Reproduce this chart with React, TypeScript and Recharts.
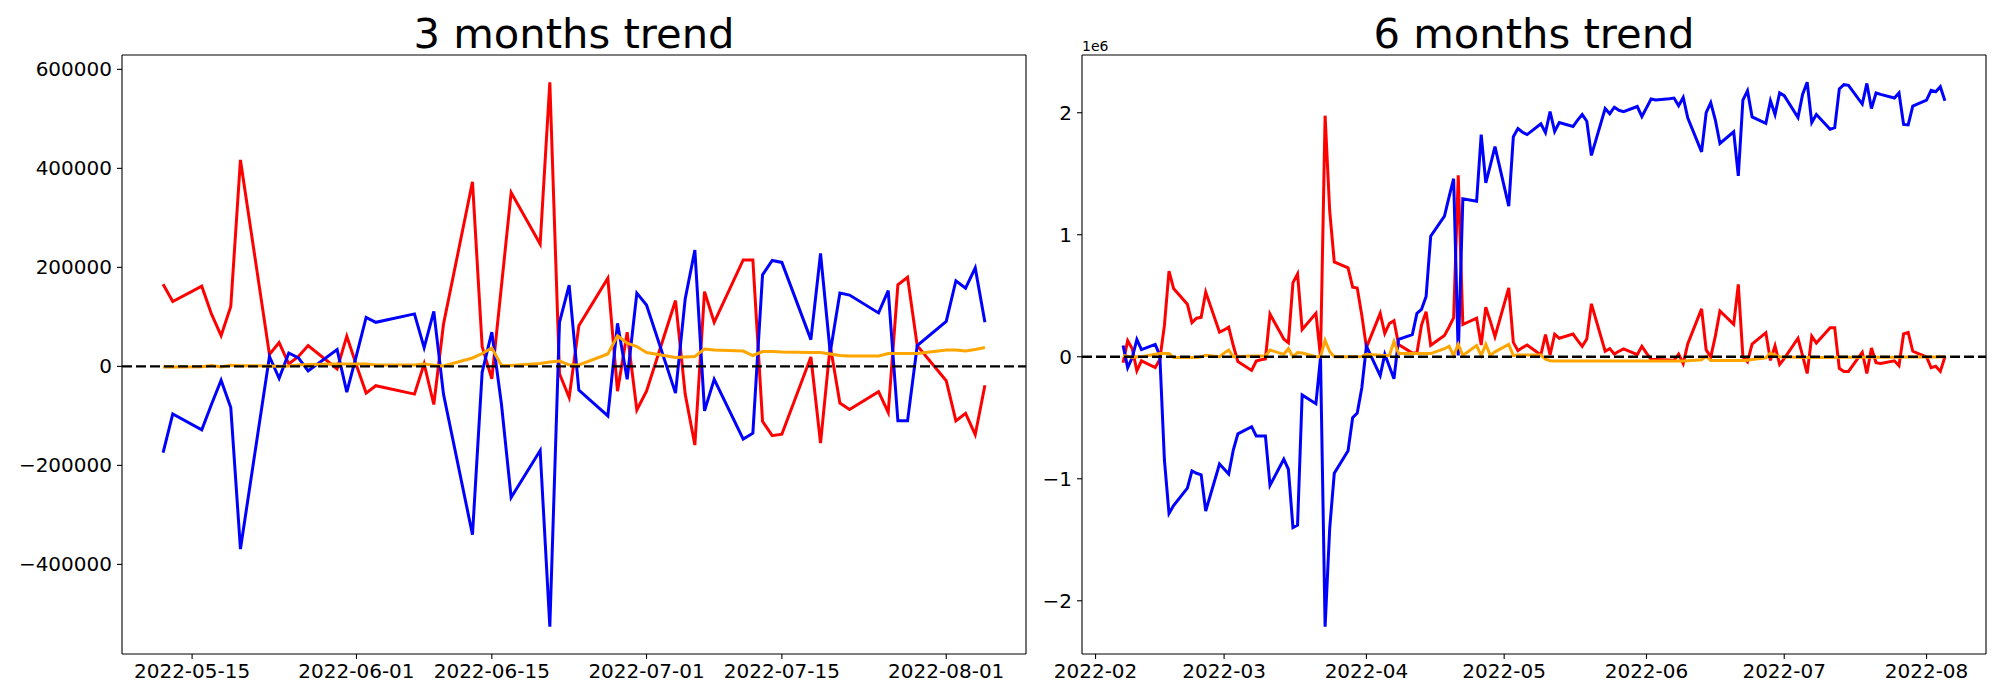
import * as React from "react"
import { LineChart, Line, XAxis, YAxis, ReferenceLine } from "recharts"

// ---- 3 months trend ----
const leftDates = [
  "2022-05-12", "2022-05-13", "2022-05-16", "2022-05-17", "2022-05-18", "2022-05-19", "2022-05-20",
  "2022-05-23", "2022-05-24", "2022-05-25", "2022-05-26", "2022-05-27", "2022-05-30", "2022-05-31",
  "2022-06-01", "2022-06-02", "2022-06-03", "2022-06-07", "2022-06-08", "2022-06-09", "2022-06-10",
  "2022-06-13", "2022-06-14", "2022-06-15", "2022-06-16", "2022-06-17", "2022-06-20", "2022-06-21",
  "2022-06-22", "2022-06-23", "2022-06-24", "2022-06-27", "2022-06-28", "2022-06-29", "2022-06-30",
  "2022-07-01", "2022-07-04", "2022-07-05", "2022-07-06", "2022-07-07", "2022-07-08", "2022-07-11",
  "2022-07-12", "2022-07-13", "2022-07-14", "2022-07-15", "2022-07-18", "2022-07-19", "2022-07-20",
  "2022-07-21", "2022-07-22", "2022-07-25", "2022-07-26", "2022-07-27", "2022-07-28", "2022-07-29",
  "2022-08-01", "2022-08-02", "2022-08-03", "2022-08-04", "2022-08-05",
]
const leftRed = [
  166000, 131000, 162000, 106000, 62000, 121000, 417000, 24000, 48000, 5000, 20000, 42000, -5000, 61000,
  2000, -54000, -39000, -56000, 5000, -77000, 85000, 373000, 40000, -25000, 163000, 351000, 247000, 574000,
  -15000, -63000, 82000, 178000, -50000, 69000, -88000,
  -50000, 133000, -56000, -159000, 151000, 89000, 215000, 215000, -111000, -140000, -137000, 19000, -155000,
  42000, -74000, -87000, -51000, -93000, 165000, 180000, 42000,
  -29000, -110000, -95000, -138000, -38000,
]
const leftBlue = [
  -174000, -96000, -128000, -77000, -28000, -83000, -369000, 20000, -24000, 27000, 17000, -9000, 34000, -52000,
  22000, 99000, 89000, 106000, 38000, 111000, -56000, -340000, -12000, 69000, -77000, -265000, -170000, -526000,
  89000, 164000, -48000, -100000, 87000, -26000, 148000,
  124000, -54000, 136000, 235000, -90000, -26000, -147000, -135000, 185000, 214000, 210000, 54000, 228000,
  28000, 148000, 144000, 108000, 153000, -110000, -110000, 42000,
  91000, 173000, 158000, 199000, 89000,
]
const leftOrange = [
  -1000, -1000, -500, 2000, -1000, 2500, 1500, 1000, 500, 1000, 3000, 4000, 5000, 5000,
  5000, 5000, 3000, 3000, 5000, 2500, 1000, 17000, 26000, 37000, 2000, 2000, 6000, 9000,
  11000, 3000, 3000, 25000, 62000, 47000, 40000,
  28000, 18000, 19000, 20000, 35000, 33000, 31000, 22000, 30000, 30000, 29000, 28000, 28000,
  25000, 22000, 21000, 21000, 26000, 26000, 26000, 26000,
  33000, 33000, 31000, 34000, 38000,
]
const leftXTicks = ["2022-05-15", "2022-06-01", "2022-06-15", "2022-07-01", "2022-07-15", "2022-08-01"]
const leftYTicks = [-400000, -200000, 0, 200000, 400000, 600000]

// ---- 6 months trend (values in 1e6) ----
const rightDates = [
  "2022-02-07", "2022-02-08", "2022-02-09", "2022-02-10", "2022-02-11", "2022-02-14", "2022-02-15", "2022-02-16",
  "2022-02-17", "2022-02-18", "2022-02-21", "2022-02-22", "2022-02-23", "2022-02-24", "2022-02-25", "2022-02-28",
  "2022-03-01", "2022-03-02", "2022-03-03", "2022-03-04", "2022-03-07", "2022-03-08", "2022-03-09", "2022-03-10",
  "2022-03-11", "2022-03-14", "2022-03-15", "2022-03-16", "2022-03-17", "2022-03-18", "2022-03-21", "2022-03-22",
  "2022-03-23", "2022-03-24", "2022-03-25", "2022-03-28", "2022-03-29", "2022-03-30", "2022-03-31",
  "2022-04-01", "2022-04-04", "2022-04-05", "2022-04-06", "2022-04-07", "2022-04-08", "2022-04-11", "2022-04-12",
  "2022-04-13", "2022-04-14", "2022-04-15", "2022-04-18", "2022-04-19", "2022-04-20", "2022-04-21", "2022-04-22",
  "2022-04-25", "2022-04-26", "2022-04-27", "2022-04-28", "2022-04-29",
  "2022-05-02", "2022-05-03", "2022-05-04", "2022-05-05", "2022-05-06", "2022-05-09", "2022-05-10", "2022-05-11",
  "2022-05-12", "2022-05-13", "2022-05-16", "2022-05-17", "2022-05-18", "2022-05-19", "2022-05-20", "2022-05-23",
  "2022-05-24", "2022-05-25", "2022-05-26", "2022-05-27", "2022-05-30", "2022-05-31",
  "2022-06-01", "2022-06-02", "2022-06-03", "2022-06-06", "2022-06-07", "2022-06-08", "2022-06-09", "2022-06-10",
  "2022-06-13", "2022-06-14", "2022-06-15", "2022-06-16", "2022-06-17", "2022-06-20", "2022-06-21", "2022-06-22",
  "2022-06-23", "2022-06-24", "2022-06-27", "2022-06-28", "2022-06-29", "2022-06-30",
  "2022-07-01", "2022-07-04", "2022-07-05", "2022-07-06", "2022-07-07", "2022-07-08", "2022-07-11", "2022-07-12",
  "2022-07-13", "2022-07-14", "2022-07-15", "2022-07-18", "2022-07-19", "2022-07-20", "2022-07-21", "2022-07-22",
  "2022-07-25", "2022-07-26", "2022-07-27", "2022-07-28", "2022-07-29",
  "2022-08-01", "2022-08-02", "2022-08-03", "2022-08-04", "2022-08-05",
]
const rightBlue = [
  0.092, -0.089, -0.007, 0.142, 0.059, 0.102, 0.010, -0.846, -1.284, -1.22, -1.077, -0.935, -0.955, -0.968, -1.264, -0.879,
  -0.92, -0.961, -0.764, -0.632, -0.573, -0.649, -0.649, -0.649, -1.054, -0.840, -0.922, -1.400, -1.380, -0.313, -0.385, -0.007,
  -2.213, -1.406, -0.955, -0.770, -0.500, -0.461, -0.254,
  0.086, -0.155, 0.020, -0.08, -0.181, 0.142, 0.181, 0.356, 0.389, 0.494, 0.988, 1.152, 1.311, 1.459, 0.010, 1.294,
  1.274, 1.821, 1.426, 1.57, 1.722,
  1.235, 1.804, 1.870, 1.84, 1.821, 1.910, 1.837, 2.009, 1.847, 1.920, 1.887, 1.94, 1.985, 1.930, 1.650, 2.035,
  1.992, 2.045, 2.02, 2.009, 2.051, 1.969,
  2.04, 2.112, 2.104, 2.115, 2.12, 2.058, 2.125, 1.956, 1.679, 2.0, 2.083, 1.940, 1.748, 1.844, 1.482, 2.104,
  2.180, 1.966, 1.913, 2.098, 1.985, 2.162,
  2.140, 1.960, 2.150, 2.250, 1.919, 1.985, 1.864, 1.878, 2.195, 2.230, 2.225, 2.071, 2.240, 2.034, 2.162, 2.15,
  2.121, 2.162, 1.904, 1.901, 2.055,
  2.104, 2.183, 2.172, 2.213, 2.098,
]
const rightRed = [
  -0.049, 0.132, 0.066, -0.115, -0.033, -0.089, -0.023, 0.257, 0.701, 0.560, 0.431, 0.280, 0.316, 0.323, 0.530, 0.201,
  0.22, 0.243, 0.092, -0.040, -0.112, -0.035, -0.025, -0.018, 0.350, 0.145, 0.115, 0.608, 0.678, 0.224, 0.356, 0.000,
  1.976, 1.195, 0.777, 0.728, 0.570, 0.563, 0.339,
  0.076, 0.356, 0.191, 0.273, 0.296, 0.10, 0.030, 0.03, 0.26, 0.37, 0.094, 0.175, 0.244, 0.32, 1.487, 0.264,
  0.316, 0.096, 0.407, 0.29, 0.165,
  0.565, 0.118, 0.05, 0.075, 0.096, 0.015, 0.182, 0.015, 0.185, 0.152, 0.186, 0.135, 0.085, 0.145, 0.434, 0.045,
  0.067, 0.022, 0.045, 0.064, 0.018, 0.085,
  0.03, -0.022, -0.023, -0.026, -0.030, 0.022, -0.056, 0.108, 0.392, 0.056, -0.001, 0.169, 0.375, 0.266, 0.593, 0.000,
  -0.041, 0.103, 0.197, -0.030, 0.090, -0.063,
  -0.015, 0.152, 0.01, -0.137, 0.169, 0.112, 0.238, 0.238, -0.095, -0.120, -0.120, 0.037, -0.137, 0.072, -0.049, -0.055,
  -0.033, -0.073, 0.187, 0.200, 0.045,
  -0.002, -0.090, -0.078, -0.120, -0.001,
]
const rightOrange = [
  0.010, 0.005, -0.005, 0.000, 0.000, 0.020, 0.026, 0.026, 0.026, -0.007, -0.007, -0.007, -0.007, 0.000, 0.013, 0.000,
  0.030, 0.055, 0.000, 0.003, 0.007, 0.007, 0.007, 0.007, 0.055, 0.020, 0.066, 0.000, 0.035, 0.030, 0.000, 0.000,
  0.135, 0.043, 0.000, 0.000, 0.000, 0.000, 0.003,
  0.020, 0.013, 0.010, 0.010, 0.125, 0.026, 0.026, 0.026, 0.026, 0.026, 0.026, 0.066, 0.086, 0.010, 0.102, 0.010,
  0.092, 0.010, 0.102, 0.010, 0.040,
  0.102, 0.010, 0.015, 0.015, 0.015, 0.015, -0.020, -0.033, -0.035, -0.035, -0.035, -0.035, -0.035, -0.035, -0.035, -0.035,
  -0.035, -0.034, -0.034, -0.034, -0.034, -0.034,
  -0.034, -0.034, -0.034, -0.034, -0.034, -0.034, -0.034, -0.032, -0.025, 0.003, -0.030, -0.030, -0.030, -0.030, -0.030, -0.030,
  -0.028, -0.022, -0.008, 0.030, 0.012, 0.000,
  -0.003, -0.005, -0.006, -0.006, -0.006, -0.006, -0.006, -0.006, -0.005, -0.005, -0.005, -0.005, -0.005, -0.005, -0.004, -0.004,
  -0.004, -0.004, -0.003, -0.003, -0.003,
  -0.002, -0.001, -0.001, 0.000, 0.000,
]
const rightXTicks = ["2022-02-01", "2022-03-01", "2022-04-01", "2022-05-01", "2022-06-01", "2022-07-01", "2022-08-01"]
const rightYTicks = [-2, -1, 0, 1, 2]

const FONT = "DejaVu Sans"
const toDay = (s: string) => Date.parse(s) / 86400000
const fmtDate = (len: number) => (d: number) => new Date(d * 86400000).toISOString().slice(0, len)
const fmtNum = (v: number) => (v < 0 ? `\u2212${Math.abs(v)}` : `${v}`)

function padded(values: number[]): [number, number] {
  const lo = Math.min(...values)
  const hi = Math.max(...values)
  const pad = (hi - lo) * 0.05
  return [lo - pad, hi + pad]
}

function buildRows(dates: string[], red: number[], blue: number[], orange: number[]) {
  return dates.map((d, i) => ({ x: toDay(d), red: red[i], blue: blue[i], orange: orange[i] }))
}

interface PanelProps {
  rows: { x: number; red: number; blue: number; orange: number }[]
  width: number
  yAxisWidth: number
  xTicks: string[]
  dateLen: number
  yTicks: number[]
}

function TrendPanel({ rows, width, yAxisWidth, xTicks, dateLen, yTicks }: PanelProps) {
  const xDomain = padded(rows.map((r) => r.x))
  const yDomain = padded(rows.flatMap((r) => [r.red, r.blue, r.orange]))
  const tick = { fontSize: 20, fill: "#000", fontFamily: FONT }
  return (
    <LineChart
      width={width}
      height={700}
      data={rows}
      margin={{ top: 55, right: 14, bottom: 0, left: 0 }}
    >
      <XAxis
        dataKey="x"
        type="number"
        domain={xDomain}
        ticks={xTicks.map(toDay)}
        tickFormatter={fmtDate(dateLen)}
        tick={tick}
        stroke="#000"
        strokeWidth={1.1}
        tickSize={5}
        tickMargin={5}
        height={46}
        allowDataOverflow
      />
      <YAxis
        type="number"
        domain={yDomain}
        ticks={yTicks}
        tickFormatter={fmtNum}
        tick={tick}
        stroke="#000"
        strokeWidth={1.1}
        tickSize={5}
        tickMargin={5}
        width={yAxisWidth}
        allowDataOverflow
      />
      <Line type="linear" dataKey="red" stroke="#ff0000" strokeWidth={3} dot={false} isAnimationActive={false} />
      <Line type="linear" dataKey="blue" stroke="#0000ff" strokeWidth={3} dot={false} isAnimationActive={false} />
      <Line type="linear" dataKey="orange" stroke="#ffa500" strokeWidth={3} dot={false} isAnimationActive={false} />
      <ReferenceLine y={0} stroke="#000" strokeWidth={2.4} strokeDasharray="10 4" />
      {/* top and right spines */}
      <ReferenceLine y={yDomain[1]} stroke="#000" strokeWidth={1.1} />
      <ReferenceLine x={xDomain[1]} stroke="#000" strokeWidth={1.1} />
    </LineChart>
  )
}

const titleStyle: React.CSSProperties = {
  position: "absolute",
  top: 13,
  fontFamily: FONT,
  fontSize: 41.7,
  lineHeight: 1,
  color: "#000",
  textAlign: "center",
  whiteSpace: "nowrap",
}

export default function App() {
  const leftRows = buildRows(leftDates, leftRed, leftBlue, leftOrange)
  const rightRows = buildRows(rightDates, rightRed, rightBlue, rightOrange)
  return (
    <div style={{ position: "absolute", left: 0, top: 0, width: 2000, height: 700, background: "#fff" }}>
      <div style={{ ...titleStyle, left: 122, width: 904 }}>3 months trend</div>
      <div style={{ ...titleStyle, left: 1082, width: 904 }}>6 months trend</div>
      <div style={{ position: "absolute", left: 1082, top: 39, fontFamily: FONT, fontSize: 14, lineHeight: 1 }}>1e6</div>
      <div style={{ position: "absolute", left: 0, top: 0 }}>
        <TrendPanel rows={leftRows} width={1040} yAxisWidth={122} xTicks={leftXTicks} dateLen={10} yTicks={leftYTicks} />
      </div>
      <div style={{ position: "absolute", left: 1040, top: 0 }}>
        <TrendPanel rows={rightRows} width={960} yAxisWidth={42} xTicks={rightXTicks} dateLen={7} yTicks={rightYTicks} />
      </div>
    </div>
  )
}
